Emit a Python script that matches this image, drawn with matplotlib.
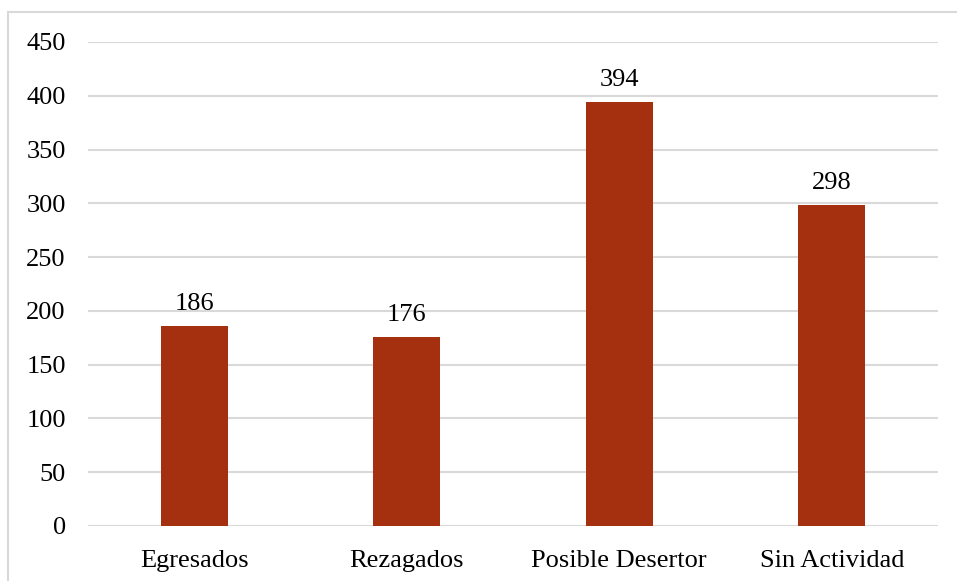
import matplotlib.pyplot as plt
from matplotlib.patches import Rectangle

categories = ["Egresados", "Rezagados", "Posible Desertor", "Sin Actividad"]
values = [186, 176, 394, 298]
yticks = list(range(0, 451, 50))

plt.rcParams["font.family"] = ["Liberation Serif", "DejaVu Serif"]

fig = plt.figure(figsize=(9.57, 5.81), dpi=100)
ax = fig.add_axes([88 / 957, 1 - 526 / 581, 850 / 957, 484 / 581])

x = range(len(categories))
bars = ax.bar(x, values, width=0.315, color="#A5300F", zorder=3)
for b, v in zip(bars, values):
    ax.annotate(str(v), (b.get_x() + b.get_width() / 2, v), xytext=(0, 8),
                textcoords="offset points", ha="center", va="bottom", fontsize=19)

ax.set_xlim(-0.5, len(categories) - 0.5)
ax.set_ylim(0, 450)
ax.set_yticks(yticks)
ax.set_xticks(list(x))
ax.set_xticklabels(categories)
ax.tick_params(axis="both", length=0, labelsize=19)
ax.tick_params(axis="y", pad=16)
ax.tick_params(axis="x", pad=17)
ax.grid(True, axis="y", color="#D9D9D9", linewidth=1.5, zorder=0)
for s in ax.spines.values():
    s.set_visible(False)

# outer chart border (runs off the right and bottom edges)
fig.patches.append(Rectangle((8 / 957, -0.1), 1.1, 1 - 12 / 581 + 0.1,
                             transform=fig.transFigure, fill=False,
                             edgecolor="#D9D9D9", linewidth=1.5))

fig.savefig("out.png", dpi=100)
